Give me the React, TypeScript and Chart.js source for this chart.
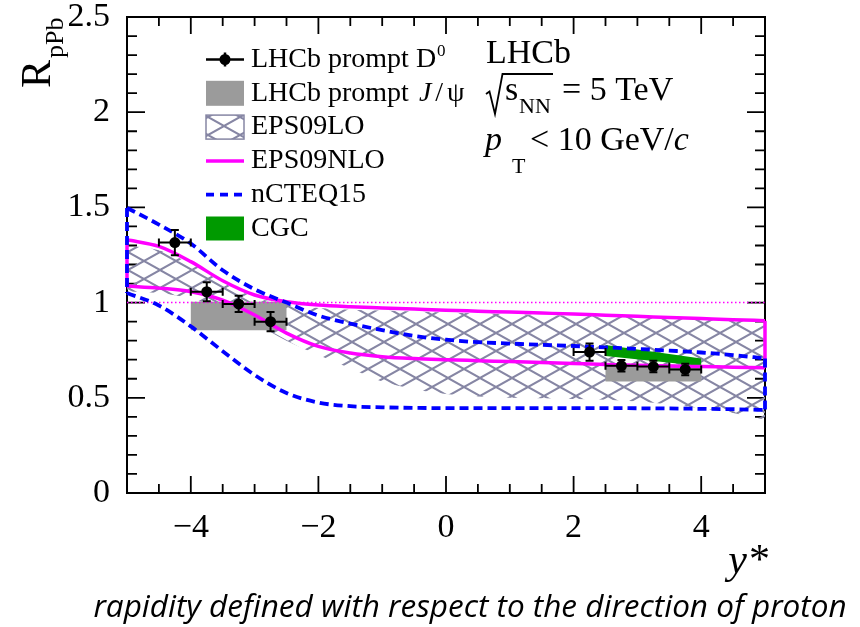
import { useEffect, useRef } from "react";
import { Chart, registerables } from "chart.js";

Chart.register(...registerables);

// Rapidity grid on which the nPDF model bands are tabulated
const rapidityGrid = [-5, -4.5, -4, -3.5, -3, -2.5, -2, -1.5, -1, -0.5, 0, 0.5, 1, 1.5, 2, 2.5, 3, 3.5, 4, 4.5, 5];

// EPS09LO uncertainty band (hatched)
const eps09loUpper = [1.3, 1.275, 1.205, 1.105, 1.03, 0.99, 0.972, 0.963, 0.958, 0.953, 0.948, 0.944, 0.94, 0.936, 0.932, 0.928, 0.924, 0.92, 0.915, 0.91, 0.905];
const eps09loLower = [1.06, 1.05, 1.02, 0.965, 0.89, 0.8, 0.725, 0.655, 0.585, 0.545, 0.52, 0.507, 0.5, 0.497, 0.494, 0.49, 0.48, 0.465, 0.445, 0.42, 0.385];

// EPS09NLO uncertainty band (solid magenta outline)
const eps09nloUpper = [1.33, 1.295, 1.215, 1.115, 1.04, 1.005, 0.987, 0.978, 0.972, 0.966, 0.96, 0.955, 0.95, 0.945, 0.94, 0.934, 0.928, 0.922, 0.916, 0.91, 0.905];
const eps09nloLower = [1.087, 1.076, 1.057, 1.013, 0.935, 0.84, 0.77, 0.735, 0.716, 0.706, 0.7, 0.695, 0.69, 0.685, 0.68, 0.675, 0.671, 0.667, 0.664, 0.661, 0.658];

// nCTEQ15 uncertainty band (dashed blue outline)
const ncteq15Upper = [1.497, 1.41, 1.31, 1.17, 1.07, 1.0, 0.932, 0.89, 0.855, 0.825, 0.805, 0.792, 0.785, 0.778, 0.772, 0.765, 0.757, 0.748, 0.738, 0.724, 0.707];
const ncteq15Lower = [1.05, 0.985, 0.875, 0.745, 0.62, 0.525, 0.475, 0.456, 0.45, 0.447, 0.446, 0.446, 0.446, 0.446, 0.446, 0.446, 0.445, 0.444, 0.442, 0.44, 0.436];

// LHCb prompt D0 measurement
const d0Rapidity = [-4.25, -3.75, -3.25, -2.75, 2.25, 2.75, 3.25, 3.75];
const d0RpPb = [1.315, 1.057, 0.993, 0.9, 0.74, 0.668, 0.664, 0.649];
const d0Uncertainty = [0.066, 0.05, 0.043, 0.05, 0.045, 0.03, 0.03, 0.03];
const d0BinHalfWidth = 0.25;

// LHCb prompt J/psi measurement (boxes)
const jpsiBinLow = [-4, 2.5];
const jpsiBinHigh = [-2.5, 4];
const jpsiRpPb = [0.93, 0.63];
const jpsiUncertainty = [0.075, 0.045];

// CGC prediction (forward only)
const cgcRapidity = [2.5, 4];
const cgcUpper = [0.777, 0.707];
const cgcLower = [0.72, 0.667];

// axis labelling
const xTickValues = [-4, -2, 0, 2, 4];
const yTickValues = [0, 0.5, 1, 1.5, 2, 2.5];

const legendLabels = ["LHCb prompt D", "LHCb prompt", "EPS09LO", "EPS09NLO", "nCTEQ15", "CGC"];

const MAGENTA = "#ff00ff";
const BLUE = "#0000ff";
const GRAY = "#9b9b9b";
const GREEN = "#009a00";
const HATCH = "#8686a4";
const SERIF = '"Liberation Serif", "Times New Roman", serif';

const pts = (xs: number[], ys: number[]) => xs.map((x, i) => ({ x, y: ys[i] }));

function makeHatch(ctx: CanvasRenderingContext2D): CanvasPattern | string {
  const w = 32;
  const h = 18;
  const c = document.createElement("canvas");
  c.width = w;
  c.height = h;
  const g = c.getContext("2d");
  if (!g) return HATCH;
  g.strokeStyle = HATCH;
  g.lineWidth = 2;
  g.beginPath();
  g.moveTo(-w, -h);
  g.lineTo(2 * w, 2 * h);
  g.moveTo(-w, 2 * h);
  g.lineTo(2 * w, -h);
  g.stroke();
  return ctx.createPattern(c, "repeat") || HATCH;
}

export default function App() {
  const canvasRef = useRef<HTMLCanvasElement | null>(null);

  useEffect(() => {
    document.body.style.margin = "0";
    const canvas = canvasRef.current;
    if (!canvas) return;
    const ctx0 = canvas.getContext("2d");
    if (!ctx0) return;
    const hatch = makeHatch(ctx0);

    const line = (data: { x: number; y: number }[], color: string, width: number, order: number, extra: any = {}) => ({
      data,
      borderColor: color,
      borderWidth: width,
      pointRadius: 0,
      fill: false,
      order,
      clip: 6,
      ...extra,
    });

    const datasets: any[] = [];
    // hatched EPS09LO band: lower edge (invisible) + upper edge filled to it
    datasets.push(line(pts(rapidityGrid, eps09loLower), "rgba(0,0,0,0)", 0, 20, { cubicInterpolationMode: "monotone" }));
    datasets.push(
      line(pts(rapidityGrid, eps09loUpper), "rgba(0,0,0,0)", 0, 20, {
        cubicInterpolationMode: "monotone",
        fill: "-1",
        backgroundColor: hatch,
      })
    );
    // J/psi boxes
    jpsiRpPb.forEach((r, i) => {
      const lo = r - jpsiUncertainty[i];
      const hi = r + jpsiUncertainty[i];
      datasets.push(
        line(
          [
            { x: jpsiBinLow[i], y: lo },
            { x: jpsiBinHigh[i], y: lo },
            { x: jpsiBinHigh[i], y: hi },
            { x: jpsiBinLow[i], y: hi },
            { x: jpsiBinLow[i], y: lo },
          ],
          GRAY,
          0,
          15,
          { fill: "shape", backgroundColor: GRAY }
        )
      );
    });
    // CGC band
    datasets.push(
      line(
        [
          { x: cgcRapidity[0], y: cgcLower[0] },
          { x: cgcRapidity[1], y: cgcLower[1] },
          { x: cgcRapidity[1], y: cgcUpper[1] },
          { x: cgcRapidity[0], y: cgcUpper[0] },
          { x: cgcRapidity[0], y: cgcLower[0] },
        ],
        GREEN,
        0,
        14,
        { fill: "shape", backgroundColor: GREEN }
      )
    );
    // unity reference
    datasets.push(line([{ x: -5, y: 1 }, { x: 5, y: 1 }], MAGENTA, 1.5, 13, { borderDash: [1.5, 2.5] }));
    // EPS09NLO outline
    const nloW = 3.5;
    datasets.push(line(pts(rapidityGrid, eps09nloUpper), MAGENTA, nloW, 10, { cubicInterpolationMode: "monotone" }));
    datasets.push(line(pts(rapidityGrid, eps09nloLower), MAGENTA, nloW, 10, { cubicInterpolationMode: "monotone" }));
    const n = rapidityGrid.length - 1;
    datasets.push(line([{ x: rapidityGrid[0], y: eps09nloLower[0] }, { x: rapidityGrid[0], y: eps09nloUpper[0] }], MAGENTA, nloW, 10));
    datasets.push(line([{ x: rapidityGrid[n], y: eps09nloLower[n] }, { x: rapidityGrid[n], y: eps09nloUpper[n] }], MAGENTA, nloW, 10));
    // nCTEQ15 outline
    const dash = { borderDash: [9, 5] };
    const ncW = 3.8;
    datasets.push(line(pts(rapidityGrid, ncteq15Upper), BLUE, ncW, 8, { cubicInterpolationMode: "monotone", ...dash }));
    datasets.push(line(pts(rapidityGrid, ncteq15Lower), BLUE, ncW, 8, { cubicInterpolationMode: "monotone", ...dash }));
    datasets.push(line([{ x: rapidityGrid[0], y: ncteq15Upper[0] }, { x: rapidityGrid[0], y: ncteq15Lower[0] }], BLUE, ncW, 8, dash));
    datasets.push(line([{ x: rapidityGrid[n], y: ncteq15Upper[n] }, { x: rapidityGrid[n], y: ncteq15Lower[n] }], BLUE, ncW, 8, dash));
    // D0 points
    datasets.push({
      data: pts(d0Rapidity, d0RpPb),
      showLine: false,
      pointRadius: 5.5,
      pointBackgroundColor: "#000",
      pointBorderWidth: 0,
      order: 1,
      clip: 10,
    });

    // frame with inward major/minor ticks on all four sides, plus D0 error bars
    const framePlugin = {
      id: "frameTicks",
      beforeDatasetsDraw(chart: any) {
        const { ctx, chartArea: a, scales } = chart;
        const xs = scales.x;
        const ys = scales.y;
        ctx.save();
        ctx.strokeStyle = "#000";
        ctx.lineWidth = 2;
        ctx.strokeRect(a.left, a.top, a.right - a.left, a.bottom - a.top);
        ctx.lineWidth = 1.8;
        ctx.beginPath();
        for (let k = 0; k <= 25; k++) {
          const p = ys.getPixelForValue(k / 10);
          const len = k % 5 === 0 ? 18 : 10;
          ctx.moveTo(a.left, p);
          ctx.lineTo(a.left + len, p);
          ctx.moveTo(a.right, p);
          ctx.lineTo(a.right - len, p);
        }
        for (let k = -10; k <= 10; k++) {
          const p = xs.getPixelForValue(k / 2);
          const len = k % 4 === 0 ? 17 : 9;
          ctx.moveTo(p, a.bottom);
          ctx.lineTo(p, a.bottom - len);
          ctx.moveTo(p, a.top);
          ctx.lineTo(p, a.top + len);
        }
        ctx.stroke();
        ctx.restore();
      },
      afterDatasetsDraw(chart: any) {
        const { ctx, scales } = chart;
        const xs = scales.x;
        const ys = scales.y;
        ctx.save();
        ctx.strokeStyle = "#000";
        ctx.lineWidth = 2;
        ctx.beginPath();
        d0Rapidity.forEach((yr, i) => {
          const cx = xs.getPixelForValue(yr);
          const cy = ys.getPixelForValue(d0RpPb[i]);
          const x0 = xs.getPixelForValue(yr - d0BinHalfWidth);
          const x1 = xs.getPixelForValue(yr + d0BinHalfWidth);
          const y0 = ys.getPixelForValue(d0RpPb[i] - d0Uncertainty[i]);
          const y1 = ys.getPixelForValue(d0RpPb[i] + d0Uncertainty[i]);
          ctx.moveTo(x0, cy);
          ctx.lineTo(x1, cy);
          ctx.moveTo(cx, y0);
          ctx.lineTo(cx, y1);
          ctx.moveTo(x0, cy - 4);
          ctx.lineTo(x0, cy + 4);
          ctx.moveTo(x1, cy - 4);
          ctx.lineTo(x1, cy + 4);
          ctx.moveTo(cx - 4, y0);
          ctx.lineTo(cx + 4, y0);
          ctx.moveTo(cx - 4, y1);
          ctx.lineTo(cx + 4, y1);
        });
        ctx.stroke();
        ctx.restore();
      },
    };

    const textPlugin = {
      id: "rpPbText",
      afterDraw(chart: any) {
        const ctx: CanvasRenderingContext2D = chart.ctx;
        ctx.save();
        ctx.fillStyle = "#000";
        ctx.textBaseline = "alphabetic";
        ctx.textAlign = "left";

        // legend
        const rowY0 = 59.5;
        const rowStep = 33.8;
        const sx0 = 206;
        const sx1 = 244;
        const sc = (sx0 + sx1) / 2;
        const tx = 251;
        const font = `28px ${SERIF}`;
        legendLabels.forEach((label, i) => {
          const y = rowY0 + i * rowStep;
          ctx.save();
          if (i === 0) {
            ctx.strokeStyle = "#000";
            ctx.lineWidth = 2.5;
            ctx.beginPath();
            ctx.moveTo(sx0, y);
            ctx.lineTo(sx1, y);
            ctx.moveTo(sc, y - 7);
            ctx.lineTo(sc, y + 7);
            ctx.stroke();
            ctx.beginPath();
            ctx.arc(sc, y, 5.5, 0, Math.PI * 2);
            ctx.fill();
          } else if (i === 1) {
            ctx.fillStyle = GRAY;
            ctx.fillRect(sx0, y - 12.5, sx1 - sx0, 25);
          } else if (i === 2) {
            ctx.fillStyle = hatch as any;
            ctx.fillRect(sx0, y - 12, sx1 - sx0, 24);
            ctx.strokeStyle = HATCH;
            ctx.lineWidth = 1.5;
            ctx.strokeRect(sx0, y - 12, sx1 - sx0, 24);
          } else if (i === 3) {
            ctx.strokeStyle = MAGENTA;
            ctx.lineWidth = 3.5;
            ctx.beginPath();
            ctx.moveTo(sx0, y);
            ctx.lineTo(sx1, y);
            ctx.stroke();
          } else if (i === 4) {
            ctx.strokeStyle = BLUE;
            ctx.lineWidth = 3.8;
            ctx.setLineDash([8, 6]);
            ctx.beginPath();
            ctx.moveTo(sx0, y);
            ctx.lineTo(sx1, y);
            ctx.stroke();
          } else {
            ctx.fillStyle = GREEN;
            ctx.fillRect(sx0, y - 12, sx1 - sx0, 24);
          }
          ctx.restore();
          const by = y + 7.2;
          ctx.font = font;
          ctx.fillText(label, tx, by);
          const w = ctx.measureText(label).width;
          if (i === 0) {
            ctx.font = `17px ${SERIF}`;
            ctx.fillText("0", tx + w + 1, by - 11);
          } else if (i === 1) {
            let x = tx + w + 10;
            ctx.font = `italic 28px ${SERIF}`;
            ctx.fillText("J", x, by);
            x += ctx.measureText("J").width + 4;
            ctx.font = font;
            ctx.fillText("/", x, by);
            x += ctx.measureText("/").width + 4;
            ctx.fillText("\u03c8", x, by);
          }
        });

        // experiment / conditions block
        ctx.font = `34px ${SERIF}`;
        ctx.fillText("LHCb", 486, 63);
        ctx.strokeStyle = "#000";
        ctx.lineWidth = 1.8;
        ctx.beginPath();
        ctx.moveTo(486, 94);
        ctx.lineTo(489.5, 91.5);
        ctx.lineTo(495, 114);
        ctx.lineTo(502.5, 74);
        ctx.lineTo(553, 74);
        ctx.stroke();
        ctx.fillText("s", 505, 100);
        ctx.font = `22px ${SERIF}`;
        ctx.fillText("NN", 519, 112.5);
        ctx.font = `34px ${SERIF}`;
        ctx.fillText("= 5 TeV", 562, 100);
        ctx.font = `italic 34px ${SERIF}`;
        ctx.fillText("p", 485, 150);
        ctx.font = `22px ${SERIF}`;
        ctx.fillText("T", 512, 173);
        ctx.font = `34px ${SERIF}`;
        const s2 = "< 10 GeV/";
        ctx.fillText(s2, 530, 150);
        const w2 = ctx.measureText(s2).width;
        ctx.font = `italic 34px ${SERIF}`;
        ctx.fillText("c", 530 + w2, 150);

        // y-axis title
        ctx.save();
        ctx.translate(50, 88);
        ctx.rotate(-Math.PI / 2);
        ctx.font = `42px ${SERIF}`;
        ctx.fillText("R", 0, 0);
        ctx.font = `26px ${SERIF}`;
        ctx.fillText("pPb", 30, 13);
        ctx.restore();

        // x-axis title
        ctx.font = `italic 42px ${SERIF}`;
        ctx.textAlign = "right";
        ctx.fillText("y*", 768, 573);

        // caption
        ctx.font = 'italic 31.5px "Open Sans", "Noto Sans", sans-serif';
        ctx.textAlign = "center";
        ctx.fillText("rapidity defined with respect to the direction of proton", 470, 617);
        ctx.restore();
      },
    };

    const fmt = (v: number) => (v < 0 ? "\u2212" + Math.abs(v) : String(v));

    const chart = new Chart(canvas, {
      type: "line",
      data: { datasets },
      options: {
        animation: false,
        responsive: false,
        devicePixelRatio: 1,
        layout: { padding: { left: 0, right: 95, top: 17, bottom: 0 } },
        plugins: { legend: { display: false }, tooltip: { enabled: false } },
        events: [],
        scales: {
          x: {
            type: "linear",
            min: -5,
            max: 5,
            grid: { display: false },
            border: { display: false },
            afterBuildTicks: (s: any) => {
              s.ticks = xTickValues.map((value) => ({ value }));
            },
            ticks: {
              color: "#000",
              padding: 7,
              font: { family: SERIF, size: 34 },
              callback: (v: any) => fmt(Number(v)),
            },
            afterFit: (s: any) => {
              s.height = 134;
              s.paddingLeft = 0;
              s.paddingRight = 0;
            },
          },
          y: {
            type: "linear",
            min: 0,
            max: 2.5,
            grid: { display: false },
            border: { display: false },
            afterBuildTicks: (s: any) => {
              s.ticks = yTickValues.map((value) => ({ value }));
            },
            ticks: {
              color: "#000",
              padding: 9,
              font: { family: SERIF, size: 34 },
              callback: (v: any) => fmt(Number(v)),
            },
            afterFit: (s: any) => {
              s.width = 127;
              s.paddingTop = 0;
              s.paddingBottom = 0;
            },
          },
        },
      } as any,
      plugins: [framePlugin, textPlugin],
    });

    return () => chart.destroy();
  }, []);

  return (
    <div style={{ width: 860, height: 627 }}>
      <canvas ref={canvasRef} width={860} height={627} />
    </div>
  );
}
